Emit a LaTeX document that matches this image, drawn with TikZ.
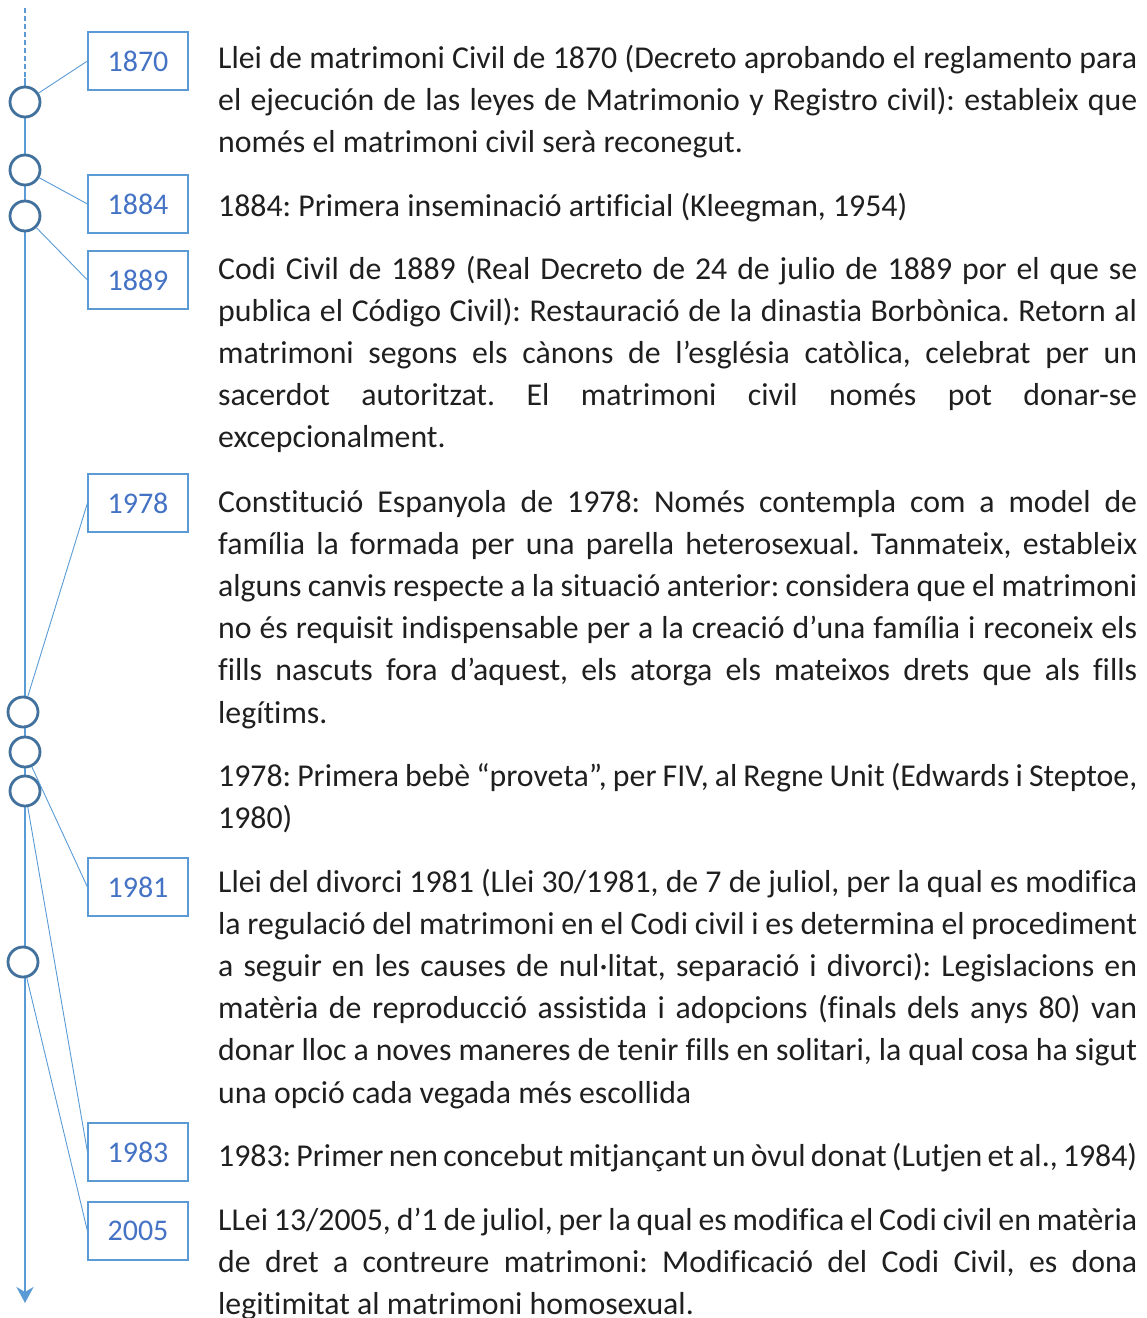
\documentclass[tikz,border=0pt]{standalone}
\usepackage{fontspec}
\setmainfont{Carlito}[Ligatures=NoCommon]
\usetikzlibrary{arrows.meta}

\definecolor{lineblue}{HTML}{5B9BD5}
\definecolor{dotblue}{HTML}{41719C}
\definecolor{yearblue}{HTML}{4472C4}
\definecolor{textgray}{HTML}{1F1F1F}

\begin{document}
\frenchspacing
\begin{tikzpicture}[x=1pt,y=-1pt]
   \useasboundingbox (0,0) rectangle (1147,1318);
   \tikzstyle{dot}=[circle, minimum size=30pt, inner sep=0pt, draw=dotblue, line width=2.8pt, fill=white]
   \tikzstyle{year}=[rectangle, minimum width=100pt, minimum height=58pt, inner sep=0pt, draw=lineblue, line width=1.1pt, text=yearblue, font={\fontsize{30}{34}\selectfont}]
   \tikzstyle{para}=[anchor=base west, inner sep=0pt, text width=919pt, align=justify, text=textgray, font={\fontsize{31.8}{42.2}\selectfont\hyphenpenalty=10000\tolerance=9999\emergencystretch=0pt}]
   % timeline
   \coordinate (top) at (25,8);
   \coordinate (start) at (25,78);
   \coordinate (end) at (25,1303);
   \draw[lineblue, line width=1.2pt, dash pattern=on 5pt off 3pt] (top) -- (start);
   \draw[lineblue, line width=2.8pt, -{Stealth[length=16pt,width=17pt,inset=5pt]}] (start) -- (end);
   \foreach \i/\x/\y in {1/25/102,2/25/170,3/25/216,4/23/712,5/25/752,6/25/791,7/23/962} {
       \node[dot] (c\i) at (\x,\y) {};
   }
   \foreach \i/\yr/\y in {1/1870/61,2/1884/204,3/1889/280,4/1978/503,5/1981/887,6/1983/1152,7/2005/1231} {
       \node[year] (y\yr) at (138,\y) {\yr};
       \path[lineblue, line width=0.9pt] (c\i) edge (y\yr.west);
   }
   % events
   \node[para] (t1870) at (218,68) {Llei de matrimoni Civil de 1870 (Decreto aprobando el reglamento para\linebreak el ejecución de las leyes de Matrimonio y Registro civil): estableix que\linebreak només el matrimoni civil serà reconegut.};
   \node[para] (t1884) at (218,216) {1884: Primera inseminació artificial (Kleegman, 1954)};
   \node[para] (t1889) at (218,279) {Codi Civil de 1889 (Real Decreto de 24 de julio de 1889 por el que se\linebreak publica el Código Civil): Restauració de la dinastia Borbònica. Retorn al\linebreak matrimoni segons els cànons de l’església catòlica, celebrat per un\linebreak sacerdot autoritzat. El matrimoni civil només pot donar-se\linebreak excepcionalment.};
   \node[para] (t1978) at (218,512) {Constitució Espanyola de 1978: Només contempla com a model de\linebreak família la formada per una parella heterosexual. Tanmateix, estableix\linebreak alguns canvis respecte a la situació anterior: considera que el matrimoni\linebreak no és requisit indispensable per a la creació d’una família i reconeix els\linebreak fills nascuts fora d’aquest, els atorga els mateixos drets que als fills\linebreak legítims.};
   \node[para] (tfiv) at (218,786) {1978: Primera bebè “proveta”, per FIV, al Regne Unit (Edwards i Steptoe,\linebreak 1980)};
   \node[para] (t1981) at (218,892) {Llei del divorci 1981 (Llei 30/1981, de 7 de juliol, per la qual es modifica\linebreak la regulació del matrimoni en el Codi civil i es determina el procediment\linebreak a seguir en les causes de nul·litat, separació i divorci): Legislacions en\linebreak matèria de reproducció assistida i adopcions (finals dels anys 80) van\linebreak donar lloc a noves maneres de tenir fills en solitari, la qual cosa ha sigut\linebreak una opció cada vegada més escollida};
   \node[para] (t1983) at (218,1166) {1983: Primer nen concebut mitjançant un òvul donat (Lutjen et al., 1984)};
   \node[para] (t2005) at (218,1230) {LLei 13/2005, d’1 de juliol, per la qual es modifica el Codi civil en matèria\linebreak de dret a contreure matrimoni: Modificació del Codi Civil, es dona\linebreak legitimitat al matrimoni homosexual.};
\end{tikzpicture}
\end{document}
